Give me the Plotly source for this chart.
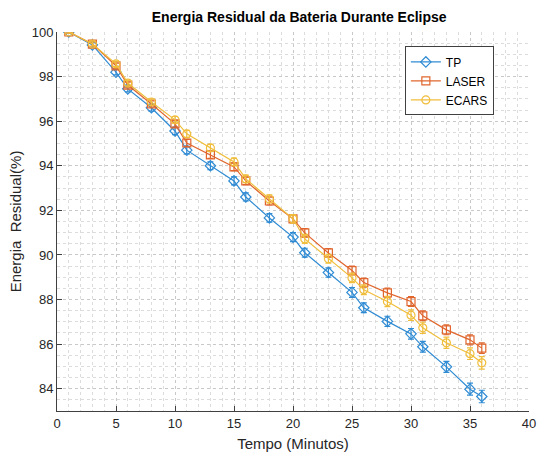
import plotly.graph_objects as go

tempo = [1, 3, 5, 6, 8, 10, 11, 13, 15, 16, 18, 20, 21, 23, 25, 26, 28, 30, 31, 33, 35, 36]

tp = [100.0, 99.42, 98.2, 97.45, 96.6, 95.56, 94.7, 94.0, 93.32, 92.6, 91.66, 90.8,
      90.1, 89.21, 88.32, 87.63, 87.02, 86.46, 85.88, 84.98, 83.98, 83.65]
laser = [100.0, 99.46, 98.48, 97.62, 96.77, 95.88, 95.02, 94.49, 93.95, 93.32, 92.42, 91.62,
         90.99, 90.09, 89.3, 88.76, 88.3, 87.91, 87.27, 86.64, 86.19, 85.82]
ecars = [100.0, 99.46, 98.57, 97.71, 96.86, 96.06, 95.43, 94.8, 94.17, 93.41, 92.51, 91.62,
         90.72, 89.83, 88.97, 88.44, 87.91, 87.3, 86.73, 86.06, 85.57, 85.16]

err_tp = [0.05, 0.1, 0.12, 0.14, 0.15, 0.16, 0.17, 0.17, 0.18, 0.18, 0.19, 0.2,
          0.2, 0.21, 0.22, 0.22, 0.23, 0.24, 0.24, 0.25, 0.27, 0.28]
err_laser = [0.05, 0.1, 0.12, 0.13, 0.14, 0.15, 0.16, 0.16, 0.17, 0.17, 0.18, 0.18,
             0.19, 0.19, 0.2, 0.2, 0.21, 0.22, 0.22, 0.22, 0.23, 0.24]
err_ecars = [0.05, 0.1, 0.12, 0.13, 0.14, 0.15, 0.16, 0.16, 0.17, 0.17, 0.18, 0.19,
             0.2, 0.2, 0.21, 0.22, 0.23, 0.24, 0.25, 0.25, 0.26, 0.28]

series = [
    ("TP", tp, err_tp, "#2f8bd3", "diamond-open"),
    ("LASER", laser, err_laser, "#e0662e", "square-open"),
    ("ECARS", ecars, err_ecars, "#f0be3c", "circle-open"),
]

fig = go.Figure()
for name, vals, errs, color, sym in series:
    fig.add_trace(go.Scatter(
        x=tempo, y=vals, name=name, mode="lines+markers",
        line=dict(color=color, width=1.2),
        marker=dict(symbol=sym, size=8, color=color, line=dict(width=1.2, color=color)),
        error_y=dict(type="data", array=errs, visible=True, color=color, thickness=1.2, width=3),
    ))

axis_common = dict(
    showline=True, linecolor="#404040", linewidth=1,
    ticks="inside", ticklen=5, tickcolor="#404040",
    tickfont=dict(family="Liberation Sans, Arial", size=13, color="#262626"),
    showgrid=True, gridcolor="#c8c8c8", griddash="dot", gridwidth=1,
    zeroline=False, mirror=False,
)

fig.update_layout(
    width=545, height=459,
    margin=dict(l=57, r=9, t=32, b=48),
    paper_bgcolor="white", plot_bgcolor="white",
    title=dict(text="<b>Energia Residual da Bateria Durante Eclipse</b>",
               x=0.549, xanchor="center", y=0.963, yanchor="middle",
               font=dict(family="Liberation Sans, Arial", size=14, color="#000000")),
    xaxis=dict(range=[0, 40], dtick=5, tick0=0,
               title=dict(text="Tempo (Minutos)", standoff=8,
                          font=dict(family="Liberation Sans, Arial", size=15, color="#262626")),
               minor=dict(dtick=1, showgrid=True, gridcolor="#dcdcdc", griddash="dot", gridwidth=1),
               **axis_common),
    yaxis=dict(range=[83, 100], dtick=2, tick0=84,
               title=dict(text="Energia  Residual(%)", standoff=6,
                          font=dict(family="Liberation Sans, Arial", size=15, color="#262626")),
               minor=dict(dtick=0.5, showgrid=True, gridcolor="#dcdcdc", griddash="dot", gridwidth=1),
               **axis_common),
    legend=dict(x=0.737, y=0.962, xanchor="left", yanchor="top",
                bgcolor="white", bordercolor="#404040", borderwidth=1,
                font=dict(family="Liberation Sans, Arial", size=12, color="#000000"),
                tracegroupgap=0, itemwidth=30),
    showlegend=True,
)

fig.write_html("out.html")
